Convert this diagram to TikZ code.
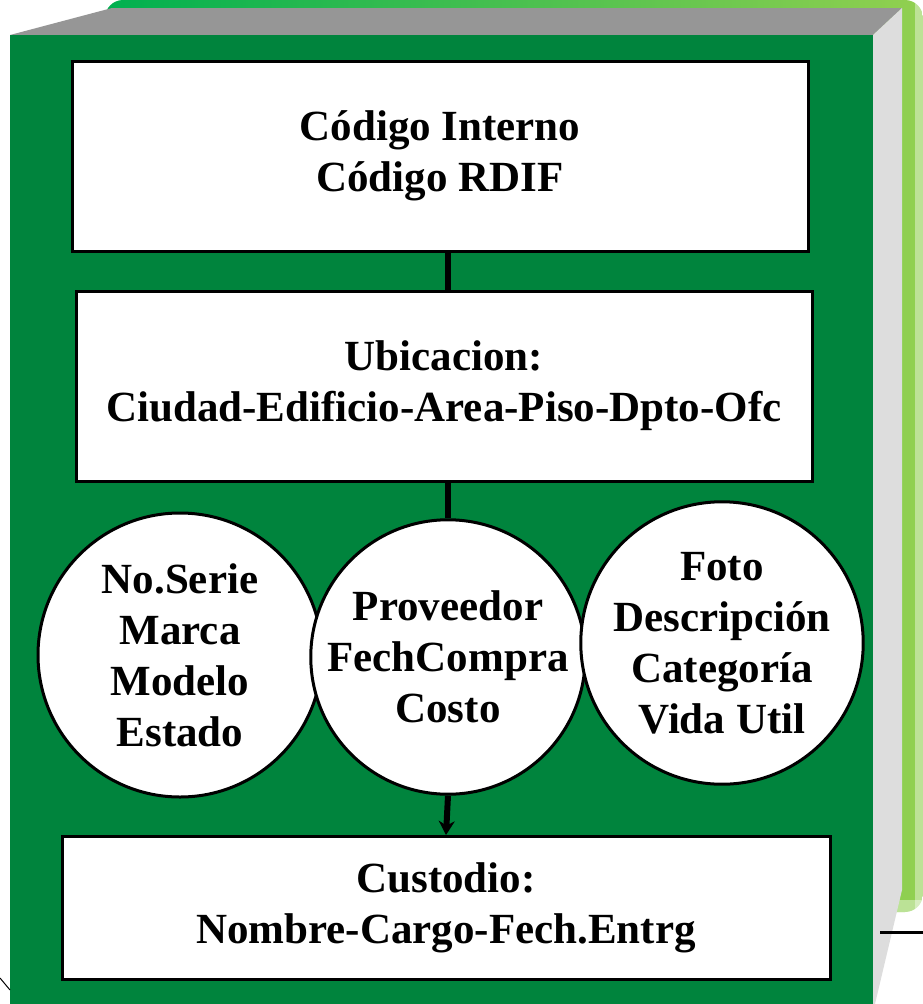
\documentclass[tikz,border=0pt]{standalone}
\usepackage{fontspec}
\setmainfont{Liberation Serif}
\usetikzlibrary{arrows.meta}
\definecolor{frente}{RGB}{0,132,61}
\definecolor{techo}{RGB}{150,150,150}
\definecolor{lado}{RGB}{221,221,221}
\definecolor{brillo}{RGB}{0,176,80}
\definecolor{brillob}{RGB}{146,208,80}
\begin{document}
\begin{tikzpicture}[x=1pt,y=-1pt,
  caja/.style={draw=black,line width=3pt,fill=white,align=center,font=\fontsize{43}{51}\selectfont\bfseries},
  bola/.style={circle,draw=black,line width=3pt,fill=white,align=center,inner sep=0pt,font=\fontsize{43}{51}\selectfont\bfseries},
  enlace/.style={line width=6pt,black}]
\useasboundingbox (0,0) rectangle (923,1004);
%\draw[style=help lines,step=50] (0,0) grid (923,1004);

% resplandor detras
\shade[left color=brillo,right color=brillob,rounded corners=18] (105,0) rectangle (923,912);
\fill[white,opacity=0.4] (105,900) rectangle (923,912);
\fill[white,opacity=0.4] (915,0) rectangle (923,912);

% caja 3D
\fill[techo] (10,35) -- (112,8) -- (902,8) -- (873,35) -- cycle;
\fill[lado] (873,35) -- (902,8) -- (902,890) -- (875,1004) -- (873,1004) -- cycle;
\fill[frente] (10,35) rectangle (873,1004);

\draw[line width=3pt] (880,932) -- (923,932);
\draw[line width=1pt] (0,978) -- (10,990);

\node[caja,minimum width=736,minimum height=190] (codigo) at (440,156) {Código Interno\\Código RDIF};
\node[caja,minimum width=736,minimum height=190] (ubicacion) at (444,386) {Ubicacion:\\Ciudad-Edificio-Area-Piso-Dpto-Ofc};

\node[bola,minimum size=284] (serie) at (180,655) {No.Serie\\Marca\\Modelo\\Estado};
\node[bola,minimum size=266] (proveedor) at (448,657) {Proveedor\\FechCompra\\Costo};
\node[bola,minimum size=274] (foto) at (722,643) {Foto\\Descripción\\Categoría\\Vida Util};

\node[caja,minimum width=768,minimum height=143] (custodio) at (446,908) {Custodio:\\Nombre-Cargo-Fech.Entrg};

\draw[enlace] (codigo.south -| proveedor) -- (ubicacion.north -| proveedor);
\draw[enlace] (ubicacion.south -| proveedor) -- (proveedor.north);
\draw[enlace,-{Stealth[length=14pt,width=16pt]}] (proveedor.south) -- (custodio.north);

\end{tikzpicture}
\end{document}
